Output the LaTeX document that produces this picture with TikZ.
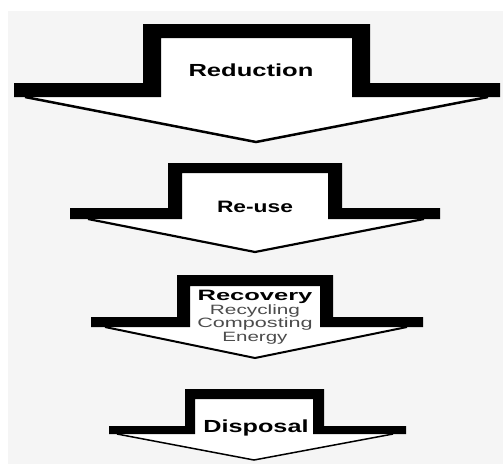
\documentclass[tikz,border=0pt]{standalone}
\usepackage{fontspec}
\setmainfont{Liberation Sans}
\usetikzlibrary{positioning}

\begin{document}
\begin{tikzpicture}[x=1pt,y=-1pt,
  band/.style={fill=black},
  hollow/.style={fill=white},
  tipline/.style={draw=black,line join=miter},
  title/.style={inner sep=0pt,anchor=base},
  item/.style={text=black!70,inner sep=0pt,anchor=base}]

\useasboundingbox (0,0) rectangle (503,464);
\fill[black!4] (8,11) rectangle (503,464);

% Reduction
\fill[hollow] (161,38) -- (352,38) -- (352,97) -- (488,97) -- (256,142) -- (25,97) -- (161,97) -- cycle;
\draw[tipline,line width=2.5pt] (25,97) -- (256,142) -- (488,97);
\fill[band] (14,83) -- (143,83) -- (143,24) -- (370,24) -- (370,83) -- (500,83) -- (500,97) -- (352,97)
  -- (352,38) -- (161,38) -- (161,97) -- (14,97) -- cycle;

% Re-use
\fill[hollow] (182,173) -- (328,173) -- (328,219) -- (424,219) -- (255,252) -- (88,219) -- (182,219) -- cycle;
\draw[tipline,line width=2.2pt] (88,219) -- (255,252) -- (424,219);
\fill[band] (70,208) -- (168,208) -- (168,163) -- (342,163) -- (342,208) -- (440,208) -- (440,219) -- (328,219)
  -- (328,173) -- (182,173) -- (182,219) -- (70,219) -- cycle;

% Recovery
\fill[hollow] (190,286) -- (320,286) -- (320,327) -- (407,327) -- (255,358) -- (105,327) -- (190,327) -- cycle;
\draw[tipline,line width=2pt] (105,327) -- (255,358) -- (407,327);
\fill[band] (91,317) -- (177,317) -- (177,275) -- (333,275) -- (333,317) -- (423,317) -- (423,327) -- (320,327)
  -- (320,286) -- (190,286) -- (190,327) -- (91,327) -- cycle;

% Disposal
\fill[hollow] (195,399) -- (313,399) -- (313,434) -- (393,434) -- (254,460) -- (117,434) -- (195,434) -- cycle;
\draw[tipline,line width=1.5pt] (117,434) -- (254,460) -- (393,434);
\fill[band] (109,426) -- (185,426) -- (185,389) -- (324,389) -- (324,426) -- (406,426) -- (406,434) -- (313,434)
  -- (313,399) -- (195,399) -- (195,434) -- (109,434) -- cycle;

\node (reduction) [title,font=\bfseries\fontsize{17.5}{17.5}\selectfont] at (251,76) {\scalebox{1.46}[1]{Reduction}};
\node (reuse) [title,font=\bfseries\fontsize{16.5}{16.5}\selectfont] at (255,212) {\scalebox{1.38}[1]{Re-use}};
\node (recovery) [title,font=\bfseries\fontsize{15}{15}\selectfont] at (255,300) {\scalebox{1.7}[1]{Recovery}};
\node (recycling) [item,font=\fontsize{13.5}{13.5}\selectfont,below=14pt of recovery.base,anchor=base] {\scalebox{1.54}[1]{Recycling}};
\node (composting) [item,font=\fontsize{13.5}{13.5}\selectfont,below=13.5pt of recycling.base,anchor=base] {\scalebox{1.6}[1]{Composting}};
\node (energy) [item,font=\fontsize{13.5}{13.5}\selectfont,below=13.5pt of composting.base,anchor=base] {\scalebox{1.52}[1]{Energy}};
\node (disposal) [title,font=\bfseries\fontsize{17.5}{17.5}\selectfont] at (256,432) {\scalebox{1.44}[1]{Disposal}};

\end{tikzpicture}
\end{document}
